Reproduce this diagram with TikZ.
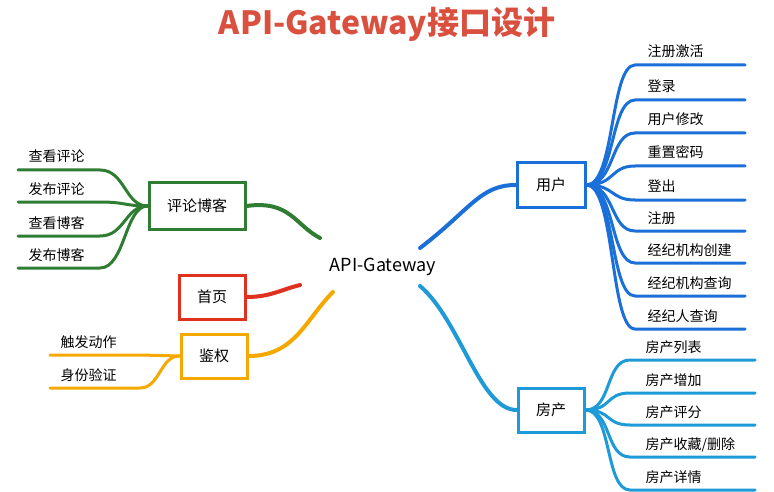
\documentclass[tikz,border=0pt]{standalone}
\usepackage{fontspec}
\setmainfont{Noto Sans CJK SC}
\begin{document}
\begin{tikzpicture}[x=1pt,y=-1pt,
  box/.style={draw,line width=3pt,minimum width=66pt,minimum height=44pt,font=\fontsize{15}{17}\selectfont,fill=white},
  lf/.style={font=\fontsize{14}{16}\selectfont,anchor=base west},
  br/.style={line width=3pt,line cap=round}]
\definecolor{cb}{HTML}{1A6FD8}\definecolor{cl}{HTML}{1E9BD6}
\definecolor{cg}{HTML}{2E7D32}\definecolor{cr}{HTML}{E0301E}\definecolor{co}{HTML}{F5A800}
\definecolor{ct}{HTML}{D9503F}
\useasboundingbox (0,0) rectangle (774,492);
\node[text=ct,font=\fontsize{32}{34}\selectfont\bfseries] (title) at (387,24) {API-Gateway接口设计};
\node[font=\fontsize{18}{20}\selectfont] (c) at (383,267) {API-Gateway};
\coordinate (cu) at (420,248); \coordinate (cf) at (420,286);
\coordinate (cgc) at (320,238); \coordinate (crc) at (300,285); \coordinate (coc) at (333,292);
% user
\node[box,draw=cb,minimum width=68pt,minimum height=44pt] (u) at (551,185) {用户};
\draw[br,cb,line width=4pt] (cu) .. controls (470,210) and (480,185) .. (u.west);
\foreach \t/\y [count=\i] in {注册激活/65,登录/100,用户修改/133,重置密码/166,登出/200,注册/231,经纪机构创建/263,经纪机构查询/296,经纪人查询/329}{
  \coordinate (ue\i) at (745,\y);
  \node[lf] (ul\i) at (644,\y-8) {\t};
  \draw[br,cb] (u.east) .. controls (615,185) and (610,\y) .. (635,\y) -- (ue\i);
}
% house
\node[box,draw=cl] (h) at (551,410) {房产};
\draw[br,cl,line width=4pt] (cf) .. controls (460,320) and (480,410) .. (h.west);
\foreach \t/\y [count=\i] in {房产列表/360,房产增加/393,房产评分/425,{房产收藏/删除}/457,房产详情/490}{
  \coordinate (he\i) at (755,\y);
  \node[lf] (hl\i) at (642,\y-8) {\t};
  \draw[br,cl] (h.east) .. controls (612,410) and (605,\y) .. (630,\y) -- (he\i);
}
% green
\node[box,draw=cg,minimum width=96pt,minimum height=46pt] (g) at (197,206) {评论博客};
\draw[br,cg,line width=4pt] (g.east) .. controls (290,200) and (295,225) .. (cgc);
\foreach \t/\y [count=\i] in {查看评论/170,发布评论/202,查看博客/236,发布博客/268}{
  \coordinate (ge\i) at (18,\y);
  \node[lf] (gl\i) at (25,\y-8) {\t};
  \draw[br,cg] (g.west) .. controls (125,206) and (125,\y) .. (100,\y) -- (ge\i);
}
% red
\node[box,draw=cr] (r) at (212,297) {首页};
\draw[br,cr,line width=4pt] (r.east) .. controls (270,297) and (280,290) .. (crc);
% orange
\node[box,draw=co] (o) at (214,356) {鉴权};
\draw[br,co,line width=4pt] (o.east) .. controls (295,356) and (305,320) .. (coc);
\foreach \t/\y [count=\i] in {触发动作/355,身份验证/388}{
  \coordinate (oe\i) at (50,\y);
  \node[lf] (ol\i) at (57,\y-8) {\t};
  \draw[br,co] (o.west) .. controls (160,356) and (160,\y) .. (140,\y) -- (oe\i);
}
\end{tikzpicture}
\end{document}
